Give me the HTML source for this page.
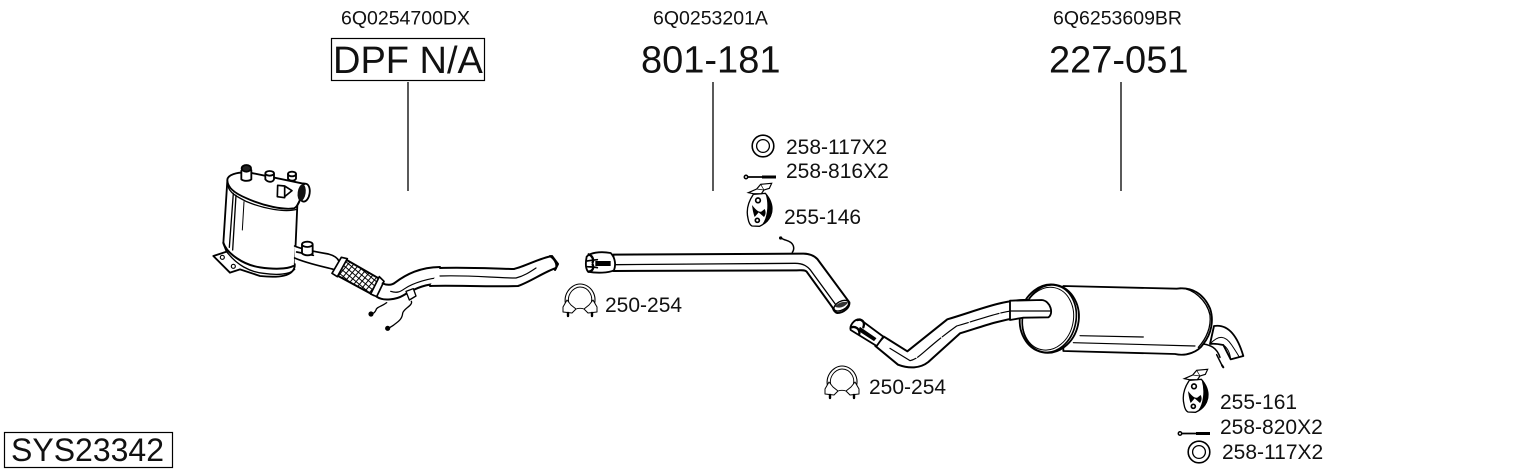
<!DOCTYPE html>
<html><head><meta charset="utf-8"><style>
html,body{margin:0;padding:0;background:#fff}
svg{display:block}
text{font-family:"Liberation Sans",sans-serif;fill:#111}
.s{font-size:21px}.t{font-size:19.5px}.b{font-size:38px}
.l{fill:none;stroke:#000;stroke-linecap:round;stroke-linejoin:round}
</style></head><body>
<svg width="1530" height="474" viewBox="0 0 1530 474" xmlns="http://www.w3.org/2000/svg">
<defs>
<pattern id="mesh" width="13" height="13" patternUnits="userSpaceOnUse" patternTransform="rotate(40)"><rect width="13" height="13" fill="#fff"/><path d="M0 0H13M0 0V13" stroke="#000" stroke-width="6"/></pattern>
<g id="clamp" class="l"><path d="M-13 5C-19 -8 -9 -19 0 -19C10 -19 19 -8 13 5" fill="#fff" stroke-width="1.100"/><path d="M-10 3C-15 -7 -7 -16 0 -16C8 -16 15 -7 10 3" stroke-width=".9"/><path d="M-13 -3L-17 4L-17 9L-8 10L-4 6L-9 2ZM13 -3L17 4L17 9L8 10L4 6L9 2Z" fill="#fff" stroke-width="1"/><path d="M-4 6C-1 5 1 5 4 6" stroke-width=".9"/><path d="M-12 10V13M12 10V13" stroke-width="2.400"/></g>
<g id="hanger" transform="translate(540 125) scale(.33333)"><path d="M640 208C625 230 618 255 624 280C626 292 630 300 636 303L658 304C672 298 686 288 692 270C700 250 692 222 676 205Z" fill="#fff" stroke="#000" stroke-width="4"/><path d="M678 208C696 225 702 252 692 274C686 286 678 294 668 298C682 280 688 240 678 208Z" fill="#000" stroke="#000" stroke-width="2"/><path d="M625 203L650 192L662 178L695 175L688 190L672 195L664 206L640 206Z" fill="#fff" stroke="#000" stroke-width="3.500"/><path d="M650 192L672 195M662 178L672 195" stroke="#000" stroke-width="2" fill="none"/><circle cx="654" cy="226" r="7" fill="#fff" stroke="#000" stroke-width="5"/><circle cx="652" cy="286" r="6" fill="#fff" stroke="#000" stroke-width="5"/><path d="M636 240C638 255 640 266 644 276L656 262L672 276C678 268 678 260 674 252L664 260C654 262 646 252 636 240Z" fill="#000"/></g>
<g id="ring"><circle r="10.800" fill="none" stroke="#000" stroke-width="1.600"/><circle r="6.400" fill="none" stroke="#000" stroke-width="1.300"/></g>
<g id="bolt" stroke="#000" fill="none"><circle cx="-14" cy="0" r="1.700" stroke-width="1.500"/><path d="M-12 0H16" stroke-width="1.800"/><path d="M2 0H16" stroke-width="3"/></g>
</defs>

<!-- top labels -->
<text class="t" x="341" y="24.500">6Q0254700DX</text>
<text class="t" x="653" y="24.500">6Q0253201A</text>
<text class="t" x="1053" y="24.500">6Q6253609BR</text>
<rect x="331.500" y="38.500" width="153" height="42" fill="none" stroke="#000" stroke-width="1.200"/>
<text class="b" x="333" y="73">DPF N/A</text>
<text class="b" x="641" y="72.500">801-181</text>
<text class="b" x="1049" y="72.500">227-051</text>
<path d="M408 82V191M713 82V191M1121 82V191" stroke="#000" stroke-width="1.300" fill="none"/>

<!-- DPF -->
<g transform="translate(200 150) scale(.33333)" class="l" stroke-width="5.500">
<path d="M82 92L70 280L80 305L40 318L90 368L120 358L180 378C240 384 278 378 284 350L292 165L300 150L322 145C334 120 326 100 305 100L150 68C110 65 80 75 82 92Z" fill="#fff"/>
<path d="M82 92C84 112 100 128 140 145C190 168 250 180 282 175C290 172 296 160 300 150"/>
<path d="M84 108C88 128 110 140 140 155C190 176 255 188 290 178" stroke-width="4"/>
<path d="M100 130L88 292M108 136L98 300" stroke-width="4"/>
<path d="M132 155L127 240" stroke-width="3"/>
<path d="M70 278C80 310 130 345 180 352C220 358 260 358 280 348" stroke-width="6"/>
<path d="M80 305C110 345 150 366 190 370C230 376 270 374 284 358" stroke-width="4"/>
<circle cx="67" cy="322" r="6" stroke-width="3.500"/><circle cx="100" cy="349" r="6" stroke-width="3.500"/>
<path d="M124 62V88C132 94 148 94 154 88L154 60" fill="#fff"/><ellipse cx="139" cy="55" rx="14" ry="10" fill="#222"/>
<path d="M196 72V88C204 98 218 98 222 88V72" fill="#fff"/><ellipse cx="209" cy="70" rx="13" ry="7" fill="#fff"/>
<path d="M264 72V86C270 94 284 94 288 86V72" fill="#fff"/><ellipse cx="276" cy="72" rx="12" ry="7" fill="#fff"/>
<path d="M233 106L232 140L254 143V108ZM254 108L276 122L254 140" fill="#fff" stroke-width="5"/>
<ellipse cx="314" cy="128" rx="15" ry="27" transform="rotate(8 314 128)" fill="#fff"/>
<ellipse cx="305" cy="128" rx="12" ry="25" transform="rotate(8 305 128)" fill="#111" stroke="none"/>
<!-- outlet pipe -->
<path d="M284 288L400 318C418 328 418 350 410 360L284 340Z" fill="#fff" stroke="none"/>
<path d="M284 288C300 296 350 306 385 312C400 316 412 324 416 332M284 324C320 340 370 350 400 358M290 306L340 316" stroke-width="5"/>
<path d="M306 284V310C314 318 332 318 338 310V284" fill="#fff"/><ellipse cx="322" cy="283" rx="16" ry="8" fill="#fff"/>
<!-- flex -->
<path d="M440 330L548 392L522 436L400 370Z" fill="url(#mesh)" stroke-width="6"/>
<path d="M424 322L442 326L412 380L396 370ZM538 380L552 394L530 440L512 432Z" fill="#fff" stroke-width="5"/>
<!-- pipe -->
<path d="M548 400C560 406 575 406 585 398C620 372 660 352 720 351M530 440C550 455 590 448 610 436C650 412 680 402 720 401" fill="none" stroke-width="6"/>
<path d="M572 424C590 430 600 426 614 416C640 398 690 384 720 383" stroke-width="3.500"/>
<path d="M618 424L640 416L648 438L628 450Z" fill="#fff" stroke-width="4"/>
<path d="M560 458C545 470 530 470 528 480C524 490 516 492 512 494M634 454C640 466 610 476 608 490C606 510 592 516 580 526C574 530 568 534 562 536" stroke-width="4"/>
<circle cx="513" cy="492" r="5" fill="#000"/><circle cx="563" cy="535" r="5" fill="#000"/>
</g>
<g class="l" stroke-width="2">
<path d="M440 268C470 267 500 269 514 269C526 266 540 258 552 256L558 264L556 268C544 272 530 282 518 286C490 287 450 285 430 286" fill="#fff"/>
<path d="M440 276C470 275 495 278 516 278C524 276 530 272 536 268" stroke-width="1.200"/>
<path d="M550 256C556 260 558 266 555 270" stroke-width="2"/>
</g>

<!-- middle pipe -->
<g transform="translate(540 125) scale(.33333)" class="l">
<path d="M220 389L790 386C810 386 822 392 832 402L928 532C930 548 910 564 892 564C884 562 880 554 878 548L800 440C795 434 785 436 770 436L220 438Z" fill="#fff" stroke-width="6"/>
<path d="M225 419C350 418 600 416 765 415C790 415 802 424 812 436L888 540" stroke-width="4"/>
<ellipse cx="904" cy="542" rx="24" ry="13" transform="rotate(-28 904 542)" fill="#fff" stroke-width="4"/>
<path d="M884 545C895 532 912 528 925 532C915 545 900 552 884 545Z" fill="#333" stroke="none"/>
<path d="M212 384C178 378 150 384 140 395C136 415 136 430 144 440C170 445 205 444 222 436C228 420 226 398 212 384Z" fill="#fff" stroke-width="5.500"/>
<path d="M166 408H212V423H166Z" fill="#000" stroke="none"/>
<path d="M142 408C155 405 165 405 172 404M142 425C155 426 165 426 172 428" stroke-width="5"/>
<path d="M146 388C156 392 162 402 158 412M146 440C158 438 162 430 158 418" stroke-width="7"/>
<path d="M757 382C764 372 762 360 752 352C742 345 732 346 722 338" stroke-width="4.500"/>
<circle cx="722" cy="339" r="5" fill="#000" stroke="none"/>
</g>
<use href="#clamp" x="580" y="303"/>
<text class="s" x="605" y="312">250-254</text>
<use href="#ring" x="763" y="146"/>
<text class="s" x="786" y="154">258-117X2</text>
<use href="#bolt" x="760" y="177"/>
<text class="s" x="786" y="178">258-816X2</text>
<use href="#hanger"/>
<text class="s" x="784" y="224">255-146</text>

<!-- rear pipe -->
<g transform="translate(810 270) scale(.33333)" class="l">
<path d="M222 200L292 244L412 148C500 122 570 92 640 90L700 90C722 92 726 130 716 142L630 142C560 152 510 172 450 190L355 276C330 296 296 296 264 284L196 228Z" fill="#fff" stroke-width="6"/>
<path d="M240 235L300 272C330 266 340 240 440 168C510 148 560 128 610 122M636 122H716" stroke-width="3.500" stroke-dasharray="90 6"/>
<path d="M150 148L220 200L200 228L122 180C118 168 132 146 150 148Z" fill="#fff" stroke-width="5.500"/>
<path d="M150 172L198 205L192 212L146 182Z" fill="#000" stroke="#000" stroke-width="2"/>
<path d="M142 150C156 146 166 156 160 172M124 172C136 168 150 176 148 192" stroke-width="7"/>
</g>
<use href="#clamp" x="842" y="385"/>
<text class="s" x="869" y="394">250-254</text>

<!-- muffler -->
<g transform="translate(1010 270) scale(.33333)" class="l">
<path d="M612 168C650 162 680 190 700 258L662 268L640 225C625 222 610 220 600 222Z" fill="#fff" stroke-width="5.500"/>
<path d="M640 225C655 235 660 250 662 268M600 222C625 195 645 195 665 225C675 240 685 255 688 262" stroke-width="3"/>
<path d="M160 48L500 56C545 50 580 70 600 115C612 150 605 190 580 222C565 245 530 260 495 252L160 243Z" fill="#fff" stroke-width="5.500"/>
<path d="M510 54C550 56 590 90 600 135C604 170 590 205 565 232" stroke-width="4"/>
<path d="M190 218L555 228M210 197L400 201" stroke-width="3.500"/>
<path d="M580 222C600 225 620 232 630 262" stroke-width="4.500"/>
<path d="M620 254L638 290" stroke-width="4.500"/>
<path d="M636 286L640 292" stroke-width="6"/>
<ellipse cx="118" cy="146" rx="80" ry="102" transform="rotate(12 118 146)" fill="#fff" stroke-width="5"/>
<ellipse cx="118" cy="146" rx="88" ry="103" transform="rotate(12 118 146)" stroke-width="5.500"/>
<ellipse cx="114" cy="146" rx="76" ry="95" transform="rotate(12 114 146)" stroke-width="3"/>
<path d="M0 92L95 90C122 92 132 132 115 142L40 143L0 150Z" fill="#fff" stroke-width="5.500"/>
<path d="M0 123H120" stroke-width="3.500"/>
</g>

<use href="#hanger" x="436" y="186"/>
<text class="s" x="1220" y="409">255-161</text>
<use href="#bolt" x="1194" y="433.500"/>
<text class="s" x="1220" y="434">258-820X2</text>
<use href="#ring" x="1199" y="452"/>
<text class="s" x="1222" y="459">258-117X2</text>

<rect x="4.500" y="432.500" width="168" height="35" fill="none" stroke="#000" stroke-width="1.200"/>
<text x="11" y="461" style="font-size:32px">SYS23342</text>
</svg>
</body></html>
